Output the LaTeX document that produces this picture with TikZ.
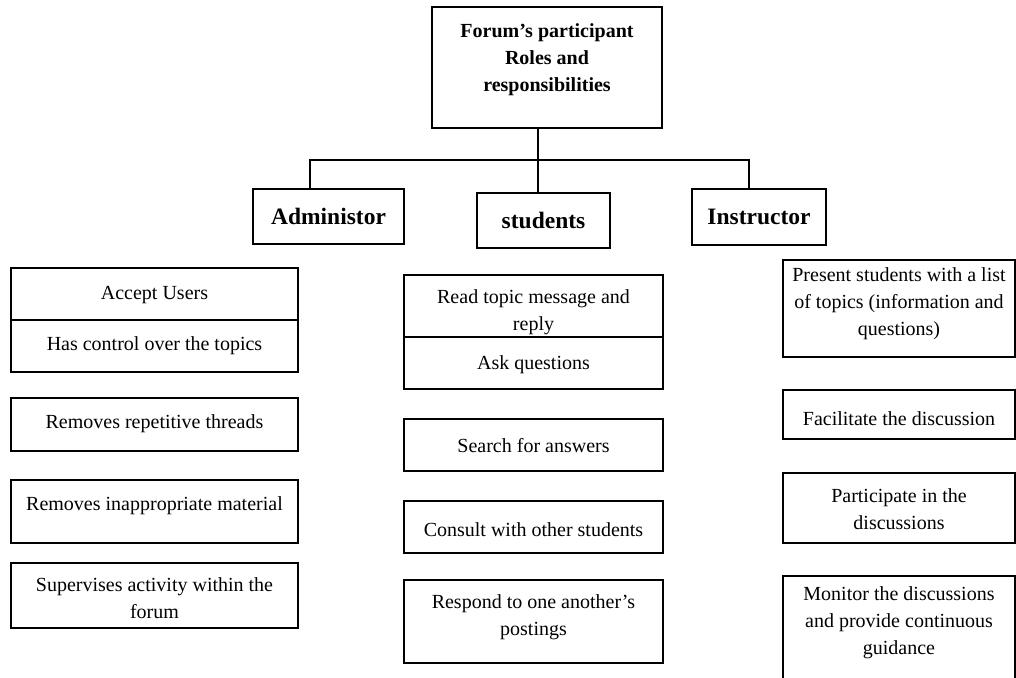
\documentclass[tikz,border=0pt]{standalone}
\usepackage{fontspec}
\setmainfont{Liberation Serif}
\newcommand\bodyfnt{\fontsize{20}{27}\selectfont}
\newcommand\headfnt{\fontsize{23.5}{28}\selectfont\bfseries}
\newcommand\titlefnt{\fontsize{20}{27}\selectfont\bfseries}
\tikzset{
  box/.style={draw=black, line width=1.3pt, inner sep=0pt, rectangle},
  lbl/.style={align=center, font=\bodyfnt, inner sep=0pt, text=black},
  head/.style={box, font=\headfnt, align=center},
  conn/.style={draw=black, line width=1.3pt},
}
\begin{document}
\begin{tikzpicture}[x=1pt,y=-1pt]
\useasboundingbox (0,0) rectangle (1016,677);
\clip (0,0) rectangle (1016,677);
\fill[white] (0,0) rectangle (1016,677);

% title
\node[box, minimum width=230pt, minimum height=121pt,
  label={[lbl, font=\titlefnt, yshift=7.5pt]center:Forum’s participant\\Roles and\\responsibilities}] (title) at (547,67.5) {};

% headers
\node[head, minimum width=151pt, minimum height=55pt] (adm) at (328.5,216.5) {Administor};
\node[head, minimum width=133pt, minimum height=55pt] (stu) at (543.5,220.5) {students};
\node[head, minimum width=134pt, minimum height=56pt] (ins) at (759,217) {Instructor};

% connectors
\coordinate (jm) at (538,160);
\coordinate (jl) at (310,160);
\coordinate (jr) at (749,160);
\draw[conn] (title.south -| jm) -- (stu.north -| jm);
\draw[conn] (adm.north -| jl) -- (jl) -- (jr) -- (ins.north -| jr);

% administrator column
\node[box, minimum width=287pt, minimum height=52pt,
  label={[lbl, yshift=-1pt]center:Accept Users}] (acc) at (154.5,294) {};
\node[box, minimum width=287pt, minimum height=52pt,
  label={[lbl, yshift=0pt]center:Has control over the topics}] (ctl) at (154.5,346) {};
\node[box, minimum width=287pt, minimum height=53pt,
  label={[lbl, yshift=0.5pt]center:Removes repetitive threads}] (rep) at (154.5,424.5) {};
\node[box, minimum width=287pt, minimum height=63pt,
  label={[lbl, yshift=5.5pt]center:Removes inappropriate material}] (inap) at (154.5,511.5) {};
\node[box, minimum width=287pt, minimum height=65pt,
  label={[lbl, yshift=-3pt]center:Supervises activity within the\\forum}] (sup) at (154.5,595.5) {};

% students column
\node[box, minimum width=259pt, minimum height=62pt,
  label={[lbl, yshift=-6pt]center:Read topic message and\\reply}] (read) at (533.5,306) {};
\node[box, minimum width=259pt, minimum height=52pt,
  label={[lbl, yshift=-2pt]center:Ask questions}] (ask) at (533.5,363) {};
\node[box, minimum width=259pt, minimum height=52pt,
  label={[lbl, yshift=-1pt]center:Search for answers}] (srch) at (533.5,445) {};
\node[box, minimum width=259pt, minimum height=52pt,
  label={[lbl, yshift=-3pt]center:Consult with other students}] (cons) at (533.5,527) {};
\node[box, minimum width=259pt, minimum height=83pt,
  label={[lbl, yshift=4.5pt]center:Respond to one another’s\\postings}] (resp) at (533.5,621.5) {};

% instructor column
\node[box, minimum width=232pt, minimum height=97pt,
  label={[lbl, yshift=4.5pt]center:Present students with a list\\of topics (information and\\questions)}] (pres) at (899,308.5) {};
\node[box, minimum width=232pt, minimum height=49pt,
  label={[lbl, yshift=-4.5pt]center:Facilitate the discussion}] (fac) at (899,414.5) {};
\node[box, minimum width=232pt, minimum height=70pt,
  label={[lbl, yshift=-1.5pt]center:Participate in the\\discussions}] (part) at (899,508) {};
\node[box, minimum width=232pt, minimum height=124pt,
  label={[lbl, yshift=15pt]center:Monitor the discussions\\and provide continuous\\guidance}] (mon) at (899,638) {};
\end{tikzpicture}
\end{document}
